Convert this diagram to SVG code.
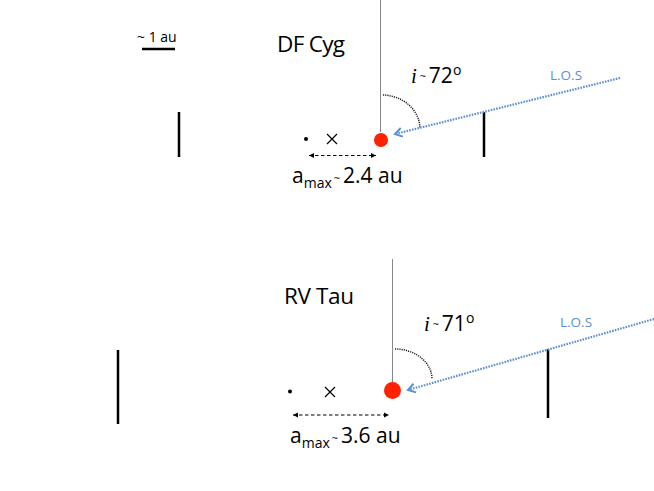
<svg xmlns="http://www.w3.org/2000/svg" width="654" height="491" viewBox="0 0 654 491">
<style>
.t{font-family:"Open Sans","Liberation Sans",sans-serif;fill:#000}
.los{font-family:"Open Sans","Liberation Sans",sans-serif;fill:#5b8fd3;font-size:13.5px}
.it{font-family:"Liberation Serif",serif;font-style:italic;font-size:21px}
.bar{stroke:#000;stroke-width:2.5}
.axis{stroke:#888;stroke-width:1}
.arc{fill:none;stroke:#222;stroke-width:1.5;stroke-dasharray:1.2 1}
.losl{stroke:#5b8fd3;stroke-width:2.2;stroke-dasharray:1.6 1.2;fill:none}
.dash{stroke:#000;stroke-width:1.2;stroke-dasharray:3.5 2.5;fill:none}
.star{fill:#ff2200}
</style>
<defs>
<marker id="v" markerWidth="12" markerHeight="12" refX="9" refY="6" orient="auto" markerUnits="userSpaceOnUse">
<path d="M2,1.5 L9,6 L2,10.5" fill="none" stroke="#5b8fd3" stroke-width="2"/>
</marker>
<marker id="h" markerWidth="6" markerHeight="6" refX="5" refY="3" orient="auto-start-reverse" markerUnits="userSpaceOnUse">
<path d="M0,0.5 L5,3 L0,5.5 Z" fill="#000"/>
</marker>
</defs>

<g id="scale">
<text class="t" x="137" y="42" font-size="14" xml:space="preserve">~ 1 au</text>
<line class="bar" x1="142" y1="49" x2="175" y2="49" stroke-width="2"/>
</g>

<g id="dfcyg">
<text class="t" x="277" y="52" font-size="22.5" textLength="68">DF Cyg</text>
<line class="bar" x1="179" y1="112" x2="179" y2="157"/>
<line class="bar" x1="484" y1="112" x2="484" y2="157"/>
<line class="axis" x1="380.5" y1="0" x2="380.5" y2="132"/>
<circle class="star" cx="381" cy="140" r="7"/>
<circle cx="306" cy="139" r="2" fill="#000"/>
<path d="M327,134 L337,144 M337,134 L327,144" stroke="#000" stroke-width="1.2"/>
<text x="411" y="83" xml:space="preserve"><tspan class="it">i</tspan><tspan class="t" font-size="11" dy="-3"> ~ </tspan><tspan class="t" font-size="21" dy="3">72</tspan><tspan class="t" font-size="14" dy="-8">o</tspan></text>
<text class="los" x="550" y="80">L.O.S</text>
<text x="292" y="183" xml:space="preserve"><tspan class="t" font-size="21">a</tspan><tspan class="t" font-size="14" dy="5">max</tspan><tspan class="t" font-size="11" dy="-6" dx="2">~</tspan><tspan class="t" font-size="21" dy="1" dx="3">2.4 au</tspan></text>
</g>

<g id="rvtau">
<text class="t" x="284" y="304" font-size="22.5" textLength="70">RV Tau</text>
<line class="bar" x1="118" y1="350" x2="118" y2="424"/>
<line class="bar" x1="548" y1="349" x2="548" y2="418"/>
<line class="axis" x1="392.5" y1="259" x2="392.5" y2="382"/>
<circle class="star" cx="392.5" cy="390.5" r="8.5"/>
<circle cx="290" cy="391.5" r="2" fill="#000"/>
<path d="M325,387 L335,397 M335,387 L325,397" stroke="#000" stroke-width="1.2"/>
<text x="424" y="331" xml:space="preserve"><tspan class="it">i</tspan><tspan class="t" font-size="11" dy="-3"> ~ </tspan><tspan class="t" font-size="21" dy="3">71</tspan><tspan class="t" font-size="14" dy="-8">o</tspan></text>
<text class="los" x="560" y="327">L.O.S</text>
<text x="290" y="443" xml:space="preserve"><tspan class="t" font-size="21">a</tspan><tspan class="t" font-size="14" dy="5">max</tspan><tspan class="t" font-size="11" dy="-6" dx="2">~</tspan><tspan class="t" font-size="21" dy="1" dx="3">3.6 au</tspan></text>
</g>

<g id="connectors">
<path class="arc" d="M383,95 A38,34 0 0 1 420,128"/>
<path class="arc" d="M395,349 A37,30 0 0 1 432,379"/>
<line class="losl" x1="620" y1="78" x2="395" y2="134" marker-end="url(#v)"/>
<line class="losl" x1="654" y1="319" x2="408" y2="390" marker-end="url(#v)"/>
<line class="dash" x1="309" y1="155.5" x2="376" y2="155.5" marker-start="url(#h)" marker-end="url(#h)"/>
<line class="dash" x1="293" y1="415" x2="389" y2="415" marker-start="url(#h)" marker-end="url(#h)"/>
</g>
</svg>
